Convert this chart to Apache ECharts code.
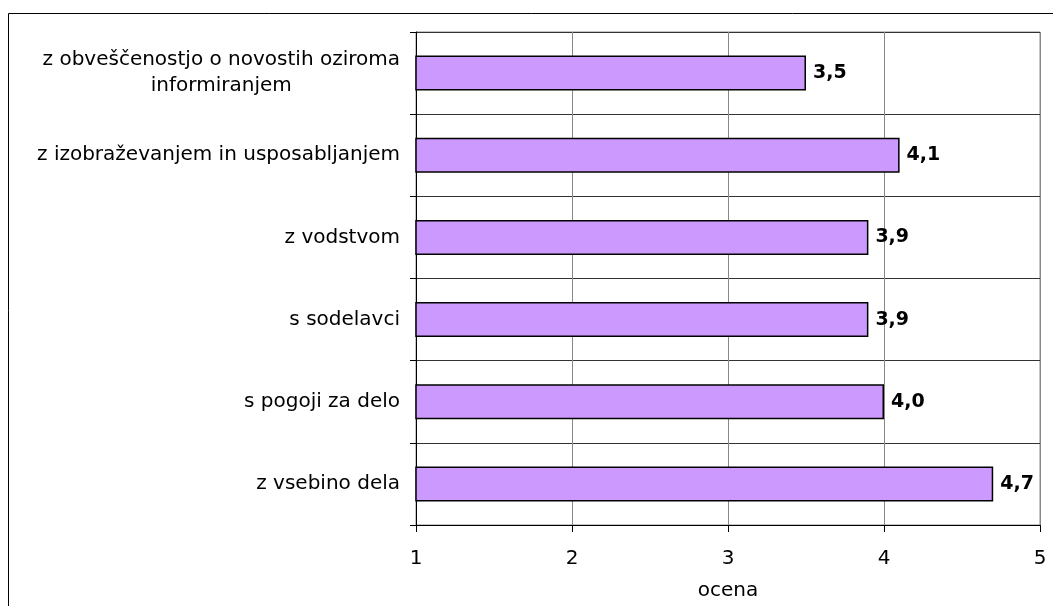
<!DOCTYPE html>
<html>
<head>
<meta charset="utf-8">
<script src="https://cdn.jsdelivr.net/npm/echarts@6/dist/echarts.min.js"></script>
<style>
  html, body { margin: 0; padding: 0; background: #fff; }
  #chart { width: 1053px; height: 606px; }
</style>
</head>
<body>
<div id="chart"></div>
<script>
// Satisfaction categories, listed top to bottom
const categories = [
  'z obveščenostjo o novostih oziroma\ninformiranjem',
  'z izobraževanjem in usposabljanjem',
  'z vodstvom',
  's sodelavci',
  's pogoji za delo',
  'z vsebino dela'
];
// Average score per category
const scores = [3.5, 4.1, 3.9, 3.9, 4.0, 4.7];
// Score axis range
const scoreMin = 1;
const scoreMax = 5;
const scoreStep = 1;
const axisTitle = 'ocena';

const FONT = 'DejaVu Sans';

const chart = echarts.init(document.getElementById('chart'), null, { renderer: 'canvas' });

chart.setOption({
  animation: false,
  backgroundColor: '#ffffff',
  textStyle: { fontFamily: FONT },
  graphic: [{
    type: 'rect',
    shape: { x: 8.5, y: 13.5, width: 2000, height: 2000 },
    style: { fill: 'none', stroke: '#000', lineWidth: 1 },
    silent: true,
    z: 100
  }],
  grid: {
    left: 416, top: 32, right: 13, bottom: 79,
    show: true,
    borderColor: '#888',
    borderWidth: 1,
    containLabel: false
  },
  xAxis: {
    type: 'value',
    min: scoreMin,
    max: scoreMax,
    interval: scoreStep,
    name: axisTitle,
    nameLocation: 'middle',
    nameGap: 56,
    nameTextStyle: { fontFamily: FONT, fontSize: 20, color: '#000' },
    axisLine: { show: true, onZero: false, lineStyle: { color: '#000', width: 1 } },
    axisTick: { show: true, length: 7, lineStyle: { color: '#000' } },
    axisLabel: {
      margin: 24,
      fontFamily: FONT, fontSize: 20, color: '#000',
      formatter: v => String(v)
    },
    splitLine: { show: true, lineStyle: { color: '#888', width: 1 } }
  },
  yAxis: {
    type: 'category',
    inverse: true,
    data: categories,
    axisLine: { show: true, lineStyle: { color: '#000', width: 1 } },
    axisTick: { show: true, length: 6, inside: false, lineStyle: { color: '#000' } },
    axisLabel: {
      margin: 16,
      interval: 0,
      formatter: v => v.split('\n').map(s => '{c|' + s + '}').join('\n'),
      rich: {
        c: { fontFamily: FONT, fontSize: 20, color: '#000', lineHeight: 26, align: 'center' }
      }
    },
    splitLine: { show: true, lineStyle: { color: '#333', width: 1 } }
  },
  series: [{
    type: 'bar',
    data: scores,
    barWidth: 35,
    itemStyle: { color: '#CC99FF', borderColor: '#000', borderWidth: 1.5 },
    label: {
      show: true,
      position: 'right',
      distance: 7,
      fontFamily: FONT,
      fontSize: 19,
      fontWeight: 'bold',
      color: '#000',
      formatter: p => p.value.toFixed(1).replace('.', ',')
    }
  }]
});
</script>
</body>
</html>
